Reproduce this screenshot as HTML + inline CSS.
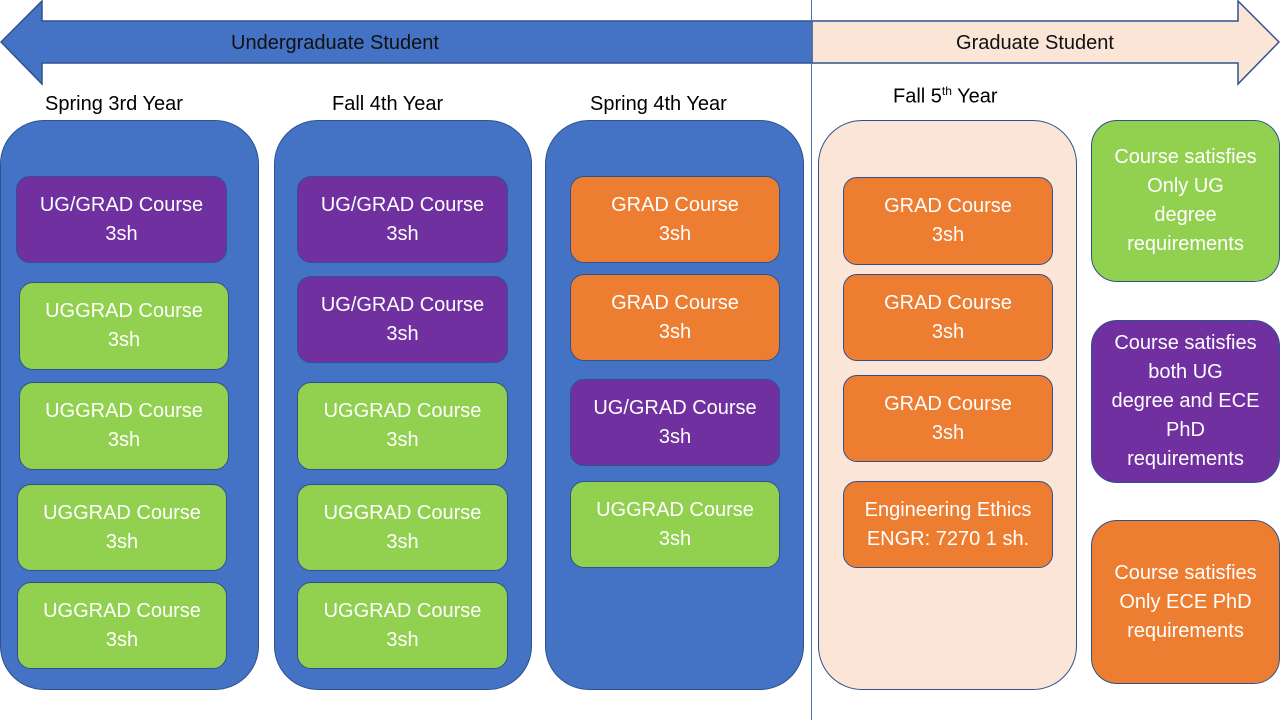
<!DOCTYPE html>
<html><head><meta charset="utf-8"><style>
body{margin:0;width:1280px;height:720px;background:#fff;position:relative;overflow:hidden;font-family:"Liberation Sans",sans-serif}
.a{position:absolute;box-sizing:border-box;display:flex;align-items:center;justify-content:center;text-align:center;color:#fff;font-size:20px;line-height:29px;border:1px solid #2F528F}
.col{border-radius:44px;background:#4472C4}
.b{border-radius:14px}
.p{background:#7030A0}.g{background:#92D050}.o{background:#ED7D31}
.l{border-radius:26px}
.t{position:absolute;font-size:20px;color:#000;white-space:nowrap}
</style></head><body>
<svg style="position:absolute;left:0;top:0" width="1280" height="720">
<polygon points="1,42 42,1 42,21 812,21 812,63 42,63 42,84" fill="#4472C4" stroke="#2F528F" stroke-width="1.5"/>
<polygon points="812,21 1238,21 1238,1 1279,42 1238,84 1238,63 812,63" fill="#FBE5D6" stroke="#2F528F" stroke-width="1.5"/>
<line x1="811.5" y1="0" x2="811.5" y2="720" stroke="#4A6FA5" stroke-width="1"/>
<text x="335" y="49" font-family="Liberation Sans" font-size="20" text-anchor="middle" fill="#111">Undergraduate Student</text>
<text x="1035" y="49" font-family="Liberation Sans" font-size="20" text-anchor="middle" fill="#111">Graduate Student</text>
</svg>
<div class="t" style="left:45px;top:93px">Spring 3rd Year</div>
<div class="t" style="left:332px;top:93px">Fall 4th Year</div>
<div class="t" style="left:590px;top:93px">Spring 4th Year</div>
<div class="t" style="left:893px;top:84px">Fall 5<sup style="font-size:12px">th</sup> Year</div>

<div class="a col" style="left:0;top:120px;width:259px;height:570px"></div>
<div class="a col" style="left:274px;top:120px;width:258px;height:570px"></div>
<div class="a col" style="left:545px;top:120px;width:259px;height:570px"></div>
<div class="a col" style="left:818px;top:120px;width:259px;height:570px;background:#FBE5D6"></div>

<div class="a b p" style="left:16px;top:176px;width:211px;height:87px">UG/GRAD Course<br>3sh</div>
<div class="a b g" style="left:19px;top:282px;width:210px;height:88px">UGGRAD Course<br>3sh</div>
<div class="a b g" style="left:19px;top:382px;width:210px;height:88px">UGGRAD Course<br>3sh</div>
<div class="a b g" style="left:17px;top:484px;width:210px;height:87px">UGGRAD Course<br>3sh</div>
<div class="a b g" style="left:17px;top:582px;width:210px;height:87px">UGGRAD Course<br>3sh</div>

<div class="a b p" style="left:297px;top:176px;width:211px;height:87px">UG/GRAD Course<br>3sh</div>
<div class="a b p" style="left:297px;top:276px;width:211px;height:87px">UG/GRAD Course<br>3sh</div>
<div class="a b g" style="left:297px;top:382px;width:211px;height:88px">UGGRAD Course<br>3sh</div>
<div class="a b g" style="left:297px;top:484px;width:211px;height:87px">UGGRAD Course<br>3sh</div>
<div class="a b g" style="left:297px;top:582px;width:211px;height:87px">UGGRAD Course<br>3sh</div>

<div class="a b o" style="left:570px;top:176px;width:210px;height:87px">GRAD Course<br>3sh</div>
<div class="a b o" style="left:570px;top:274px;width:210px;height:87px">GRAD Course<br>3sh</div>
<div class="a b p" style="left:570px;top:379px;width:210px;height:87px">UG/GRAD Course<br>3sh</div>
<div class="a b g" style="left:570px;top:481px;width:210px;height:87px">UGGRAD Course<br>3sh</div>

<div class="a b o" style="left:843px;top:177px;width:210px;height:88px">GRAD Course<br>3sh</div>
<div class="a b o" style="left:843px;top:274px;width:210px;height:87px">GRAD Course<br>3sh</div>
<div class="a b o" style="left:843px;top:375px;width:210px;height:87px">GRAD Course<br>3sh</div>
<div class="a b o" style="left:843px;top:481px;width:210px;height:87px">Engineering Ethics<br>ENGR: 7270 1 sh.</div>

<div class="a l g" style="left:1091px;top:120px;width:189px;height:162px">Course satisfies<br>Only UG<br>degree<br>requirements</div>
<div class="a l p" style="left:1091px;top:320px;width:189px;height:163px">Course satisfies<br>both UG<br>degree and ECE<br>PhD<br>requirements</div>
<div class="a l o" style="left:1091px;top:520px;width:189px;height:164px">Course satisfies<br>Only ECE PhD<br>requirements</div>
</body></html>
